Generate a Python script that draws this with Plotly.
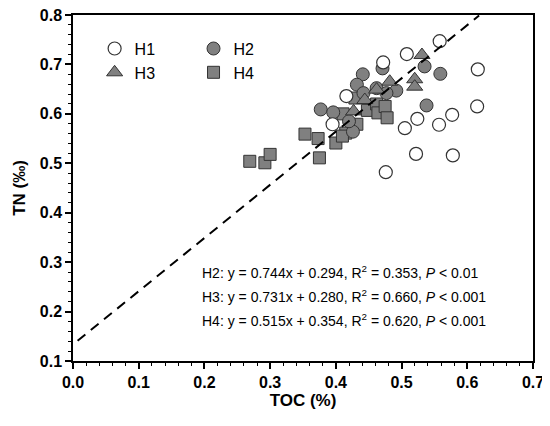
import plotly.graph_objects as go

# values (TOC %, TN ‰)
h1_toc = [0.558, 0.508, 0.472, 0.616, 0.615, 0.577, 0.524, 0.557, 0.505, 0.522, 0.578, 0.476, 0.416, 0.395]
h1_tn = [0.747, 0.721, 0.704, 0.690, 0.615, 0.598, 0.590, 0.578, 0.571, 0.519, 0.516, 0.482, 0.636, 0.579]

h2_toc = [0.535, 0.559, 0.538, 0.471, 0.441, 0.432, 0.462, 0.492, 0.477, 0.442, 0.377, 0.396, 0.426, 0.420]
h2_tn = [0.696, 0.681, 0.617, 0.692, 0.680, 0.659, 0.652, 0.647, 0.642, 0.642, 0.609, 0.603, 0.564, 0.585]

h3_toc = [0.531, 0.520, 0.520, 0.482, 0.462, 0.444, 0.427]
h3_tn = [0.719, 0.670, 0.655, 0.665, 0.649, 0.628, 0.605]

h4_toc = [0.269, 0.292, 0.300, 0.353, 0.373, 0.375, 0.400, 0.411, 0.415, 0.410,
          0.432, 0.429, 0.448, 0.462, 0.464, 0.475, 0.478]
h4_tn = [0.504, 0.501, 0.518, 0.559, 0.550, 0.511, 0.541, 0.600, 0.561, 0.555,
         0.579, 0.632, 0.607, 0.620, 0.602, 0.615, 0.592]

# dashed reference line
line_toc = [0.007, 0.618]
line_tn = [0.141, 0.799]

fit_labels = [
    "H2: y = 0.744x + 0.294, R<sup>2</sup> = 0.353, <i>P</i> < 0.01",
    "H3: y = 0.731x + 0.280, R<sup>2</sup> = 0.660, <i>P</i> < 0.001",
    "H4: y = 0.515x + 0.354, R<sup>2</sup> = 0.620, <i>P</i> < 0.001",
]
fit_y = [0.281, 0.232, 0.183]

grey = "#808080"
edge = "#333333"
font = "Liberation Sans, Arial, sans-serif"

fig = go.Figure()
# squares first so the circles/triangles sit on top, like the reference
fig.add_trace(go.Scatter(
    x=h4_toc, y=h4_tn, mode="markers", name="H4", legend="legend2",
    marker=dict(symbol="square", size=12, color=grey, line=dict(color=edge, width=1)),
))
fig.add_trace(go.Scatter(
    x=h2_toc, y=h2_tn, mode="markers", name="H2", legend="legend2",
    marker=dict(symbol="circle", size=13, color=grey, line=dict(color=edge, width=1)),
))
fig.add_trace(go.Scatter(
    x=h3_toc, y=h3_tn, mode="markers", name="H3", legend="legend",
    marker=dict(symbol="triangle-up", size=14, color=grey, line=dict(color=edge, width=1)),
))
fig.add_trace(go.Scatter(
    x=h1_toc, y=h1_tn, mode="markers", name="H1", legend="legend",
    marker=dict(symbol="circle", size=13, color="white", line=dict(color=edge, width=1.2)),
))
fig.add_trace(go.Scatter(
    x=line_toc, y=line_tn, mode="lines", showlegend=False,
    line=dict(color="black", width=2, dash="10px,7px"),
))

for txt, yy in zip(fit_labels, fit_y):
    fig.add_annotation(
        x=0.193, y=yy, xref="x", yref="y", text=txt,
        showarrow=False, xanchor="left", yanchor="middle",
        font=dict(size=14, color="black", family=font),
    )

axis_common = dict(
    showline=True, linecolor="black", linewidth=1.5, mirror=True,
    ticks="outside", ticklen=6, tickwidth=1.5, tickcolor="black",
    showgrid=False, zeroline=False, automargin=False,
    ticklabeloverflow="allow",
    tickfont=dict(size=16, color="black", family=font, weight="bold"),
    minor=dict(ticks="outside", ticklen=3, tickwidth=1.2, tickcolor="black"),
)

fig.update_xaxes(
    range=[0, 0.7], dtick=0.1, tickformat=".1f",
    title=dict(text="<b>TOC (%)</b>", font=dict(size=17, color="black", family=font), standoff=0),
    **axis_common,
)
fig.update_yaxes(
    range=[0.1, 0.8], dtick=0.1, tickformat=".1f",
    title=dict(text="<b>TN (‰)</b>", font=dict(size=17, color="black", family=font), standoff=10),
    **axis_common,
)

legend_style = dict(
    bgcolor="rgba(0,0,0,0)", borderwidth=0, yanchor="top", xanchor="left",
    font=dict(size=16, color="black", family=font), tracegroupgap=0,
    traceorder="reversed",
)
# the page body adds an 8px margin, so the figure is 8px smaller than the window
fig.update_layout(
    width=542, height=419,
    margin=dict(l=65, r=17, t=6.5, b=65.5),
    paper_bgcolor="white", plot_bgcolor="white",
    legend=dict(x=0.047, y=0.952, **legend_style),
    legend2=dict(x=0.262, y=0.952, **legend_style),
    showlegend=True,
)

fig.write_html("out.html")
